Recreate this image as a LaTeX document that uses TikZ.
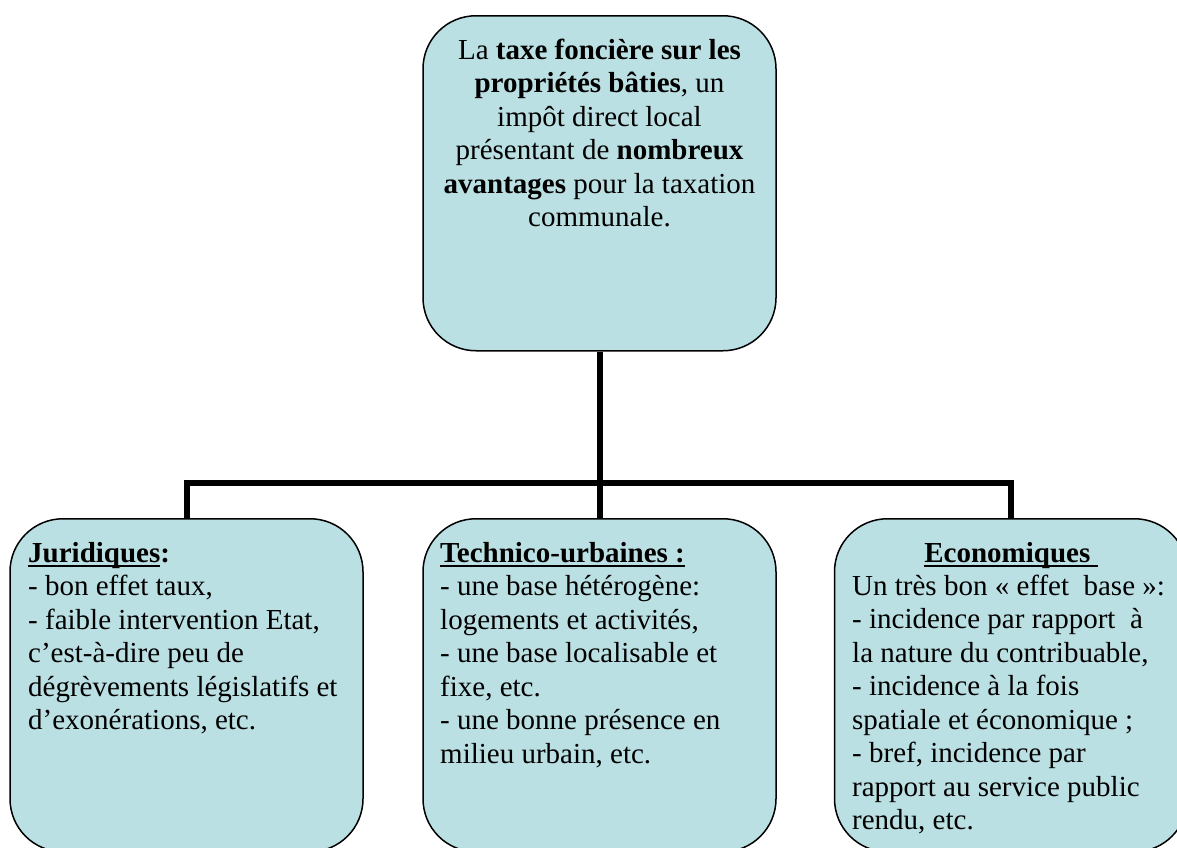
\documentclass[tikz,border=0pt]{standalone}
\usepackage{fontspec}
\setmainfont{Liberation Serif}
\definecolor{boxfill}{RGB}{187,224,227}
\newsavebox\myulbox
\newcommand\myul[1]{\sbox\myulbox{#1}\rlap{\rule[-4.5pt]{\wd\myulbox}{1.8pt}}\usebox\myulbox}
\begin{document}
\begin{tikzpicture}[x=1pt,y=-1pt,
  card/.style={draw=black, line width=1.5pt, fill=boxfill, rounded corners=53pt,
    minimum width=353pt, inner sep=0pt, anchor=north},
  txt/.style={font=\fontsize{29}{33.5}\selectfont, inner sep=0pt, text=black},
  link/.style={draw=black, line width=6pt, line join=miter}]
\useasboundingbox (0,0) rectangle (1177,847);
\clip (0,0) rectangle (1177,847);
\fill[white] (0,0) rectangle (1177,847);
% connectors
\coordinate (j) at (599.5,483);
\node[card, minimum height=335pt] (top) at (599.5,15) {};
\node[card, minimum height=333pt] (left) at (186.5,518) {};
\node[card, minimum height=333pt] (mid) at (599.5,518) {};
\node[card, minimum height=333pt] (right) at (1011,518) {};
\draw[link] (top.south) -- (j);
\draw[link] (left.north) |- (j) -| (right.north);
\draw[link] (j) -- (mid.north);
% texts
\node[txt, align=center, anchor=north] (toptext) at (599.5,35.5)
  {\strut La \textbf{taxe foncière sur les}\\ \textbf{propriétés bâties}, un\\ impôt direct local\\ présentant de \textbf{nombreux}\\ \textbf{avantages} pour la taxation\\ communale.};
\node[txt, align=left, anchor=north west] (lefttext) at (28,538.5)
  {\strut\textbf{\myul{Juridiques}:}\\ - bon effet taux,\\ - faible intervention Etat,\\ c’est-à-dire peu de\\ dégrèvements législatifs et\\ d’exonérations, etc.};
\node[txt, align=left, anchor=north west] (midtext) at (440,538.5)
  {\strut\textbf{\myul{Technico-urbaines :}}\\ - une base hétérogène:\\ logements et activités,\\ - une base localisable et\\ fixe, etc.\\ - une bonne présence en\\ milieu urbain, etc.};
\node[txt, anchor=base] (righthead) at (1011,562) {\textbf{\myul{Economiques\ }}};
\node[txt, align=left, anchor=north west] (righttext) at (852,571.5)
  {\strut Un très bon «~effet\ \ base~»:\\ - incidence par rapport\ \ à\\ la nature du contribuable,\\ - incidence à la fois\\ spatiale et économique~;\\ - bref, incidence par\\ rapport au service public\\ rendu, etc.};
\end{tikzpicture}
\end{document}
